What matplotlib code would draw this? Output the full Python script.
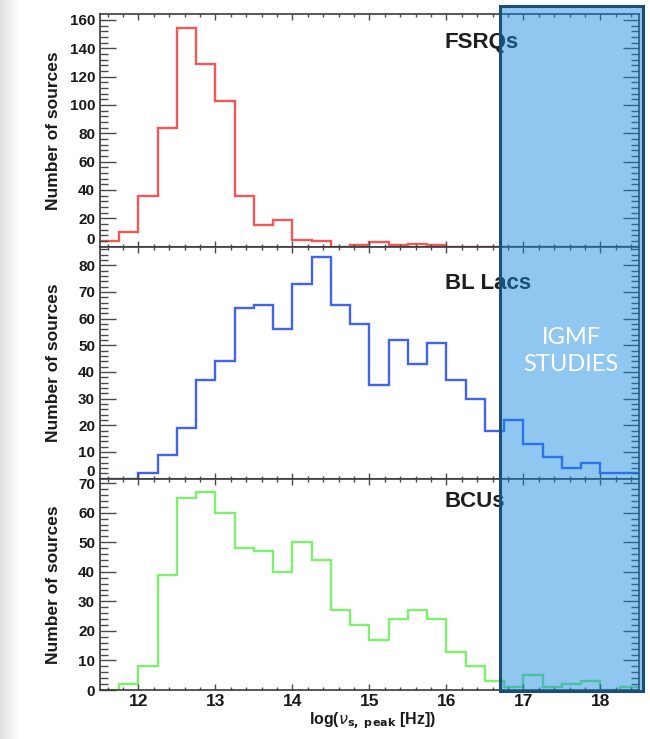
import numpy as np
import matplotlib
matplotlib.use('Agg')
import matplotlib.pyplot as plt
from matplotlib.patches import Rectangle
from matplotlib.ticker import MultipleLocator, FuncFormatter
from matplotlib.transforms import blended_transform_factory
from matplotlib.colors import to_rgba

plt.rcParams['font.family'] = ['Liberation Sans', 'DejaVu Sans']
plt.rcParams['mathtext.fontset'] = 'dejavusans'

# =============================================================================
# Synchrotron peak frequency histograms (bins of 0.25 in log10(nu/Hz))
# =============================================================================
bin_lo, bin_width = 11.5, 0.25

fsrq_counts  = [4, 10, 36, 84, 154, 129, 103, 36, 15, 19, 5, 4, 0, 1, 3, 1, 2, 1,
                0, 0, 0, 0, 0, 0, 0, 0, 0, 0]
bllac_counts = [0, 0, 2, 9, 19, 37, 44, 64, 65, 56, 73, 83, 65, 58, 35, 52, 43, 51,
                37, 30, 18, 22, 13, 8, 4, 6, 2, 2]
bcu_counts   = [0, 2, 8, 39, 65, 67, 60, 48, 47, 40, 50, 44, 27, 22, 17, 24, 27, 24,
                13, 8, 3, 1, 5, 1, 2, 3, 0, 1]

panel_names  = ['FSRQs', 'BL Lacs', 'BCUs']
panel_colors = ['#f25858', '#4262f0', '#7ef06e']
panel_ymax   = [163.8, 87.0, 71.6]
panel_major  = [20, 10, 10]
panel_minor  = [4, 2, 2]

# x-range of the highlighted IGMF region
igmf_lo, igmf_hi = 16.69, 18.55

# axes boxes in figure fraction: [left, bottom, width, height]
left, width = 0.1538, 0.8292
boxes = [[left, 0.6663, width, 0.3141],
         [left, 0.3525, width, 0.3138],
         [left, 0.0663, width, 0.2862]]

fig = plt.figure(figsize=(6.5, 7.39), dpi=100)

# soft grey strip on the left edge
ax_bg = fig.add_axes([0, 0, 20 / 650, 1], zorder=-1)
ax_bg.imshow(np.linspace(0.88, 1.0, 50)[None, :], cmap='gray', vmin=0, vmax=1,
             aspect='auto', extent=[0, 1, 0, 1])
ax_bg.axis('off')

edges = bin_lo + bin_width * np.arange(len(fsrq_counts) + 1)
all_counts = [fsrq_counts, bllac_counts, bcu_counts]
axes = []

for i, (counts, name, color) in enumerate(zip(all_counts, panel_names, panel_colors)):
    ax = fig.add_axes(boxes[i])
    axes.append(ax)
    ax.stairs(counts, edges, baseline=None, color=color, lw=1.7)
    ax.set_xlim(bin_lo, bin_lo + 7)
    ax.set_ylim(0, panel_ymax[i])

    ax.xaxis.set_major_locator(MultipleLocator(1))
    ax.xaxis.set_minor_locator(MultipleLocator(0.2))
    ax.yaxis.set_major_locator(MultipleLocator(panel_major[i]))
    ax.yaxis.set_minor_locator(MultipleLocator(panel_minor[i]))

    for sp in ax.spines.values():
        sp.set_color('#3a3a3a')
        sp.set_linewidth(1.2)

    ax.tick_params(which='both', direction='in', top=True, right=True,
                   color='#4a4a4a', width=1.0)
    ax.tick_params(axis='x', which='major', length=4)
    ax.tick_params(axis='x', which='minor', length=2)
    ax.tick_params(axis='y', which='major', length=11.5, pad=3.5,
                   labelsize=11, labelcolor='#1a1a1a')
    ax.tick_params(axis='y', which='minor', length=5.5)
    for lab in ax.get_yticklabels():
        lab.set_fontweight('bold')

    if i < 2:
        ax.tick_params(axis='x', labelbottom=False)
        # the zero label is nudged up so it clears the pad below
        ax.yaxis.set_major_formatter(FuncFormatter(lambda v, p: '' if v == 0 else f'{v:g}'))
        ax.annotate('0', xy=(0, 0), xycoords=('axes fraction', 'data'),
                    xytext=(-3.5, 5), textcoords='offset points',
                    ha='right', va='center', fontsize=11, fontweight='bold',
                    color='#1a1a1a')
    else:
        ax.tick_params(axis='x', which='major', pad=3.0, labelsize=12.5,
                       labelcolor='#1a1a1a')
        for lab in ax.get_xticklabels():
            lab.set_fontweight('bold')
        ax.set_xlabel(r'log($\nu_{\mathbf{s,\ peak}}$ [Hz])', fontsize=11.5,
                      fontweight='bold', color='#1a1a1a')
        ax.xaxis.set_label_coords(0.506, -0.098)

    ax.set_ylabel('Number of sources', fontsize=12.5, fontweight='bold',
                  color='#1a1a1a')
    ax.yaxis.set_label_coords(-0.072, 0.5)

    ax.text(0.64, [0.881, 0.839, 0.890][i], name, transform=ax.transAxes,
            fontsize=16, fontweight='bold', color='#1e1e1e', ha='left', va='center')

# highlighted IGMF band across all three pads
band_tr = blended_transform_factory(axes[2].transData, fig.transFigure)
band = Rectangle((igmf_lo, 0.065), igmf_hi - igmf_lo, 0.927, transform=band_tr,
                 facecolor=to_rgba('#1189e1', 0.47), edgecolor='#1a4e74',
                 lw=2.2, zorder=5, clip_on=False)
fig.add_artist(band)
fig.text(0.5 * (igmf_lo + igmf_hi), 0.525, 'IGMF\nSTUDIES', transform=band_tr,
         ha='center', va='center', fontsize=17, color='white',
         family=['Lato', 'DejaVu Sans'], fontweight='normal', linespacing=1.3,
         zorder=6)

fig.savefig('out.png', dpi=100)
